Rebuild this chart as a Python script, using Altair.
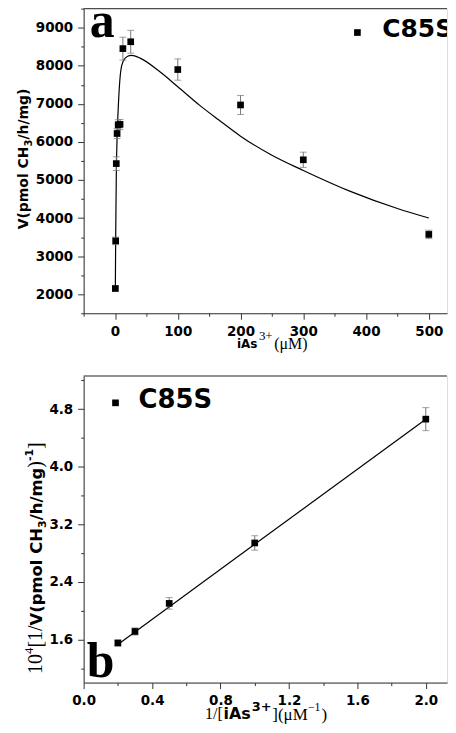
import altair as alt
import pandas as pd

# ---------------- data ----------------
# Panel a: V vs [iAs3+]
a_conc = [0.5, 1, 2, 3.3, 5, 8, 12.5, 25, 100, 200, 300, 500]
a_v = [2150, 3400, 5430, 6220, 6450, 6460, 8450, 8630, 7900, 6970, 5530, 3570]
a_err = [60, 100, 180, 130, 130, 130, 300, 300, 280, 250, 200, 110]

# fitted curve
fit_a_conc = [0.5, 1, 2, 3.3, 5, 9, 13, 20, 26, 40, 70, 100, 135, 165, 200, 250, 300, 375, 450, 500]
fit_a_v = [2150, 3450, 5100, 6150, 6850, 7850, 8120, 8250, 8270, 8200, 7860, 7450, 6960,
           6580, 6150, 5650, 5250, 4700, 4250, 4000]

# Panel b: Lineweaver-Burk
b_inv = [0.2, 0.3, 0.5, 1.0, 2.0]
b_val = [1.55, 1.71, 2.10, 2.94, 4.66]
b_err = [0.04, 0.05, 0.08, 0.10, 0.16]
fit_b_inv = [0.2, 2.0]
fit_b_val = [1.53, 4.66]

legend_label = "C85S"

# ---------------- layout constants ----------------
W = 365
HA = 306
HB = 308
LEFT = 83  # page x of plot left edge
TOPA = 8
TOPB = 377

SANS = "DejaVu Sans"
SERIF = "Liberation Serif"
AX = "#333333"
ERR = "#777777"

SANS_W = {**{d: .696 for d in "0123456789"}, "V": .774, "(": .457, ")": .457, "p": .716, "m": 1.042,
          "o": .687, "l": .343, " ": .348, "C": .734, "H": .837, "/": .365, "h": .712, "g": .716,
          "i": .343, "A": .774, "s": .595, "+": .838, "-": .415, "S": .72}
SERIF_W = {**{d: .5 for d in "0123456789"}, "[": .333, "]": .333, "/": .278, "(": .333, ")": .333,
           "\u03bc": .5, "M": .889, "\u2212": .564, "+": .564}


def tw(s, font, size):
    tab = SANS_W if font == SANS else SERIF_W
    return sum(tab.get(c, 0.6) for c in s) * size


dfa = pd.DataFrame({"x": a_conc, "y": a_v, "lo": [v - e for v, e in zip(a_v, a_err)],
                    "hi": [v + e for v, e in zip(a_v, a_err)]})
dfa_fit = pd.DataFrame({"x": fit_a_conc, "y": fit_a_v})
dfb = pd.DataFrame({"x": b_inv, "y": b_val, "lo": [v - e for v, e in zip(b_val, b_err)],
                    "hi": [v + e for v, e in zip(b_val, b_err)]})
dfb_fit = pd.DataFrame({"x": fit_b_inv, "y": fit_b_val})
one = pd.DataFrame({"k": [0]})


def mk_axis(values, test, fmt):
    return alt.Axis(
        values=values, format=fmt, title=None, grid=False,
        labelExpr=f"({test}) ? datum.label : ''",
        tickSize={"condition": {"test": test, "value": 6}, "value": 3},
        labelFont=SANS, labelFontWeight="bold", labelFontSize=13.5, labelColor="black",
        labelPadding=5, labelOverlap=False, labelFlush=False,
        domainColor=AX, tickColor=AX, domainWidth=1, tickWidth=1,
    )


def panel(df, dffit, xdom, ydom, xaxis, yaxis, fit_interp):
    X = lambda f: alt.X(f, type="quantitative", scale=alt.Scale(domain=xdom, nice=False, zero=False), axis=xaxis)
    Y = lambda f: alt.Y(f, type="quantitative", scale=alt.Scale(domain=ydom, nice=False, zero=False), axis=yaxis)
    base = alt.Chart(df)
    bars = base.mark_rule(color=ERR, strokeWidth=1).encode(x=X("x"), y=Y("lo"), y2="hi")
    cap_lo = base.mark_tick(orient="horizontal", size=7, thickness=1, color=ERR).encode(x=X("x"), y=Y("lo"))
    cap_hi = base.mark_tick(orient="horizontal", size=7, thickness=1, color=ERR).encode(x=X("x"), y=Y("hi"))
    line = alt.Chart(dffit).mark_line(color="black", strokeWidth=1.2, interpolate=fit_interp).encode(
        x=X("x"), y=Y("y"))
    pts = base.mark_square(size=45, color="black", opacity=1).encode(x=X("x"), y=Y("y"))
    border = alt.Chart(one).mark_rule(color=AX, strokeWidth=1).encode(
        x=alt.value(0), x2=alt.value(W), y=alt.value(0))
    return [line, bars, cap_lo, cap_hi, pts, border]


def txt(s, x, y, font, size, weight="normal", angle=0, clip=False, dx=0, dy=0):
    kw = dict(text=s, font=font, fontSize=size, fontWeight=weight, align="left",
              baseline="alphabetic", color="black")
    if angle:
        kw["angle"] = angle
    if clip:
        kw["clip"] = True
    if dx:
        kw["dx"] = dx
    if dy:
        kw["dy"] = dy
    return alt.Chart(one).mark_text(**kw).encode(x=alt.value(x), y=alt.value(y))


def rich(pieces, x, y, angle=0, gap=0.0):
    """pieces: (text, font, size, weight, shift) laid out one after another."""
    out = []
    off = 0.0
    for s, font, size, weight, shift in pieces:
        if angle:
            out.append(txt(s, x, y, font, size, weight, angle=angle, dx=round(off, 1), dy=shift))
        else:
            out.append(txt(s, x + off, y + shift, font, size, weight))
        off += tw(s, font, size) + gap
    return out, off


ax = lambda px: px - LEFT
aya = lambda py: py - TOPA
ayb = lambda py: py - TOPB

# ---------- panel a ----------
xa = mk_axis(list(range(-50, 501, 50)), "datum.value % 100 === 0", "d")
ya = mk_axis(list(range(1500, 9501, 500)), "datum.value % 1000 === 0", "d")
layers_a = panel(dfa, dfa_fit, [-50, 529], [1500, 9500], xa, ya, "monotone")

xt_a, _ = rich([("iAs", SANS, 12, "bold", 0), ("3+", SERIF, 13, "normal", -8),
                ("(\u03bcM)", SERIF, 16, "normal", 1)], ax(237), aya(349), gap=1.5)
yt_a_pieces = [("V(pmol CH", SANS, 14, "bold", 0), ("3", SANS, 10, "bold", 4),
               ("/h/mg)", SANS, 14, "bold", 0)]
ya_len = sum(tw(p[0], p[1], p[2]) for p in yt_a_pieces)
yt_a, _ = rich(yt_a_pieces, ax(27.5), aya(159 + ya_len / 2), angle=270)

layers_a += [
    txt("a", ax(89), aya(36), SERIF, 50, "bold"),
    alt.Chart(one).mark_square(size=45, color="black", opacity=1).encode(
        x=alt.value(ax(358)), y=alt.value(aya(32))),
    txt(legend_label, ax(383), aya(37), SANS, 25, "bold", clip=True),
    # invisible left anchor to fix origin
    alt.Chart(one).mark_rule(strokeOpacity=0, strokeWidth=1).encode(
        x=alt.value(-75.5), x2=alt.value(-75.5), y=alt.value(10), y2=alt.value(20)),
] + xt_a + yt_a
chart_a = alt.layer(*layers_a).properties(width=W, height=HA)

# ---------- panel b ----------
xb = mk_axis([round(i * 0.2, 1) for i in range(0, 11)], "round(datum.value*10) % 4 === 0", ".1f")
yb = mk_axis([round(1.2 + i * 0.4, 1) for i in range(0, 11)], "round(datum.value*10) % 8 === 0", ".1f")
layers_b = panel(dfb, dfb_fit, [0, 2.124], [1.0, 5.26], xb, yb, "linear")

xt_b, _ = rich([("1/[", SERIF, 16, "normal", 0), ("iAs", SANS, 16, "bold", 0),
                ("3+", SANS, 13, "bold", -8), ("](\u03bcM", SERIF, 17, "normal", 1),
                ("\u22121", SERIF, 12, "normal", -8), (")", SERIF, 17, "normal", 1)],
               ax(205), ayb(722), gap=0.8)
yt_b_pieces = [("10", SERIF, 20, "normal", 0), ("4", SERIF, 13, "normal", -9),
               ("[1/", SERIF, 20, "normal", 0), ("V(pmol CH", SANS, 16.5, "bold", 0),
               ("3", SANS, 11, "bold", 4), ("/h/mg", SANS, 16.5, "bold", 0),
               (")", SERIF, 20, "normal", 0), ("-1", SANS, 11, "bold", -9),
               ("]", SERIF, 20, "normal", 0)]
yb_len = sum(tw(p[0], p[1], p[2]) for p in yt_b_pieces)
yt_b, _ = rich(yt_b_pieces, ax(41), ayb(560 + yb_len / 2), angle=270)

layers_b += [
    txt("b", ax(86), ayb(679), SERIF, 50, "bold"),
    alt.Chart(one).mark_square(size=45, color="black", opacity=1).encode(
        x=alt.value(ax(115)), y=alt.value(ayb(404))),
    txt(legend_label, ax(138), ayb(409), SANS, 26, "bold"),
] + xt_b + yt_b
chart_b = alt.layer(*layers_b).properties(width=W, height=HB)

chart = alt.vconcat(chart_a, chart_b, spacing=63, bounds="flush").properties(
    padding={"left": 0, "top": -14, "right": 0, "bottom": 0}
).configure_view(stroke=None).configure(background="white")

chart.save("out.html", embed_options={"renderer": "svg", "actions": False})
